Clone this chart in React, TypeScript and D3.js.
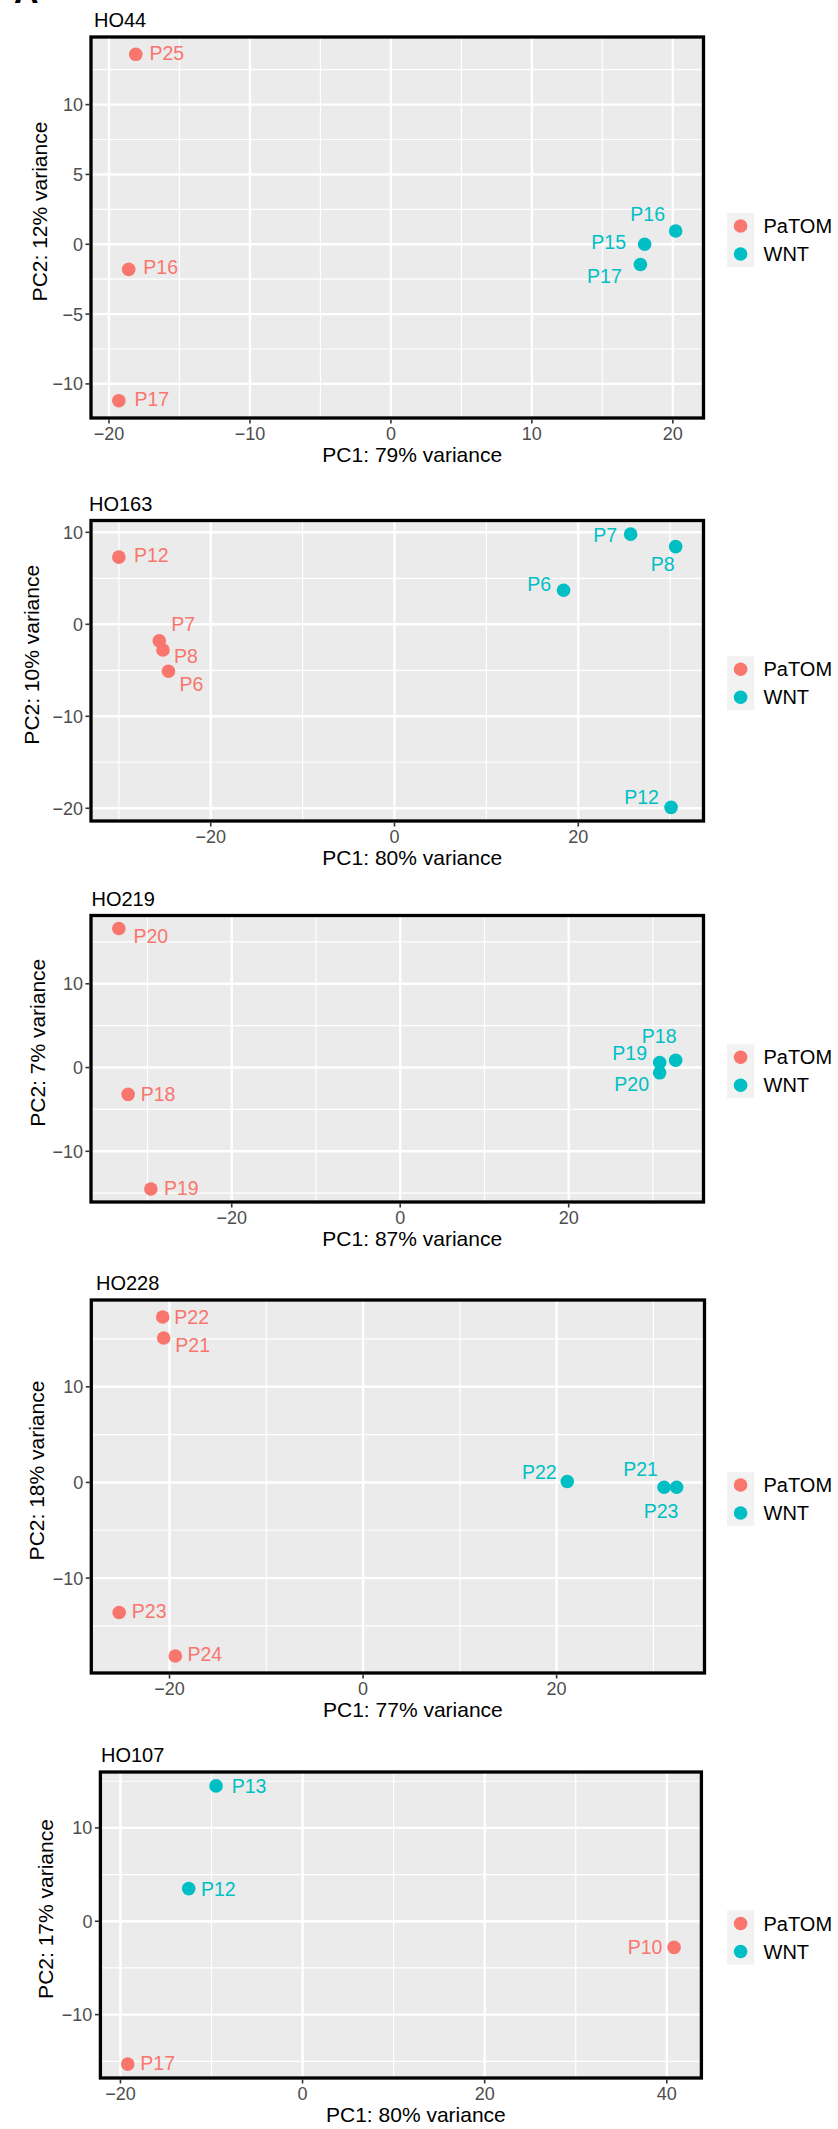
import React from "react";
import * as d3 from "d3";

// groups
const groupNames = ["PaTOM", "WNT"];
const groupColors = ["#F8766D", "#00BFC4"];

// HO44
const ho44Samples = ["P25", "P16", "P17", "P16", "P15", "P17"];
const ho44Groups = ["PaTOM", "PaTOM", "PaTOM", "WNT", "WNT", "WNT"];
const ho44PC1 = [-18.1, -18.6, -19.3, 20.2, 18.0, 17.7];
const ho44PC2 = [13.6, -1.8, -11.2, 0.95, 0.0, -1.45];
const ho44XTicks = [-20, -10, 0, 10, 20];
const ho44YTicks = [-10, -5, 0, 5, 10];

// HO163
const ho163Samples = ["P12", "P7", "P8", "P6", "P7", "P8", "P6", "P12"];
const ho163Groups = ["PaTOM", "PaTOM", "PaTOM", "PaTOM", "WNT", "WNT", "WNT", "WNT"];
const ho163PC1 = [-30.0, -25.6, -25.2, -24.6, 25.7, 30.6, 18.4, 30.1];
const ho163PC2 = [7.3, -1.8, -2.8, -5.1, 9.8, 8.45, 3.7, -19.9];
const ho163XTicks = [-20, 0, 20];
const ho163YTicks = [-20, -10, 0, 10];

// HO219
const ho219Samples = ["P20", "P18", "P19", "P18", "P19", "P20"];
const ho219Groups = ["PaTOM", "PaTOM", "PaTOM", "WNT", "WNT", "WNT"];
const ho219PC1 = [-33.4, -32.3, -29.6, 32.7, 30.8, 30.8];
const ho219PC2 = [16.6, -3.2, -14.5, 0.87, 0.6, -0.63];
const ho219XTicks = [-20, 0, 20];
const ho219YTicks = [-10, 0, 10];

// HO228
const ho228Samples = ["P22", "P21", "P23", "P24", "P22", "P21", "P23"];
const ho228Groups = ["PaTOM", "PaTOM", "PaTOM", "PaTOM", "WNT", "WNT", "WNT"];
const ho228PC1 = [-20.7, -20.6, -25.2, -19.4, 21.1, 31.1, 32.4];
const ho228PC2 = [17.3, 15.1, -13.6, -18.15, 0.1, -0.5, -0.5];
const ho228XTicks = [-20, 0, 20];
const ho228YTicks = [-10, 0, 10];

// HO107
const ho107Samples = ["P13", "P12", "P10", "P17"];
const ho107Groups = ["WNT", "WNT", "PaTOM", "PaTOM"];
const ho107PC1 = [-9.5, -12.5, 40.8, -19.2];
const ho107PC2 = [14.5, 3.5, -2.8, -15.3];
const ho107XTicks = [-20, 0, 20, 40];
const ho107YTicks = [-10, 0, 10];

const panelTitles = ["HO44", "HO163", "HO219", "HO228", "HO107"];
const pc1Variance = [79, 80, 87, 77, 80];
const pc2Variance = [12, 10, 7, 18, 17];

// label placement (like ggrepel output), px offsets of the label centre
const ho44Nudge = [[31, -1], [32, -2], [33, -2], [-28, -17], [-36, -2], [-36, 11]];
const ho163Nudge = [[32.5, -2], [24, -17], [23, 6], [23, 13], [-25.5, 1], [-13, 17], [-24.5, -6], [-29.5, -10]];
const ho219Nudge = [[32, 7], [30, 0], [30.5, -1], [-16.5, -24], [-30, -9.5], [-28, 11]];
const ho228Nudge = [[29, 0], [29, 7], [30, -2], [29.5, -2], [-28, -9], [-23.5, -18], [-15.5, 24]];
const ho107Nudge = [[33, 0], [29.5, 0], [-29, 0], [30, -1]];

// panel boxes on the page
const layout = [
  { top: 37, bottom: 418, x0: 91, x1: 703.5, yTitleX: 39, titleX: 94 },
  { top: 520.5, bottom: 821, x0: 91, x1: 703.5, yTitleX: 31, titleX: 89 },
  { top: 915.5, bottom: 1202, x0: 91, x1: 703.5, yTitleX: 37, titleX: 91.5 },
  { top: 1300, bottom: 1673, x0: 91.3, x1: 704.5, yTitleX: 36, titleX: 96 },
  { top: 1772, bottom: 2078, x0: 100.4, x1: 701.4, yTitleX: 45, titleX: 101 },
];

const panelData = [
  { samples: ho44Samples, groups: ho44Groups, pc1: ho44PC1, pc2: ho44PC2, xTicks: ho44XTicks, yTicks: ho44YTicks, nudge: ho44Nudge },
  { samples: ho163Samples, groups: ho163Groups, pc1: ho163PC1, pc2: ho163PC2, xTicks: ho163XTicks, yTicks: ho163YTicks, nudge: ho163Nudge },
  { samples: ho219Samples, groups: ho219Groups, pc1: ho219PC1, pc2: ho219PC2, xTicks: ho219XTicks, yTicks: ho219YTicks, nudge: ho219Nudge },
  { samples: ho228Samples, groups: ho228Groups, pc1: ho228PC1, pc2: ho228PC2, xTicks: ho228XTicks, yTicks: ho228YTicks, nudge: ho228Nudge },
  { samples: ho107Samples, groups: ho107Groups, pc1: ho107PC1, pc2: ho107PC2, xTicks: ho107XTicks, yTicks: ho107YTicks, nudge: ho107Nudge },
];

const FONT = "'Liberation Sans', Arial, Helvetica, sans-serif";
const color = d3.scaleOrdinal<string, string>().domain(groupNames).range(groupColors);
const fmt = (v: number) => (v < 0 ? "\u2212" + Math.abs(v) : String(v));

// ggplot style 5% expansion
function expand(vals: number[]): [number, number] {
  const [lo, hi] = d3.extent(vals) as [number, number];
  const pad = (hi - lo) * 0.05;
  return [lo - pad, hi + pad];
}

function minorBreaks(ticks: number[], domain: [number, number]) {
  const step = ticks[1] - ticks[0];
  const out: number[] = [];
  for (let v = ticks[0] - step / 2; v <= domain[1]; v += step) {
    if (v >= domain[0]) out.push(v);
  }
  return out;
}

function Panel({ i }: { i: number }) {
  const d = panelData[i];
  const L = layout[i];
  const xDomain = expand(d.pc1);
  const yDomain = expand(d.pc2);
  const x = d3.scaleLinear().domain(xDomain).range([L.x0, L.x1]);
  const y = d3.scaleLinear().domain(yDomain).range([L.bottom, L.top]);
  const xMinor = minorBreaks(d.xTicks, xDomain);
  const yMinor = minorBreaks(d.yTicks, yDomain);
  const midX = (L.x0 + L.x1) / 2;
  const midY = (L.top + L.bottom) / 2;
  const legendY = midY + 12.5;

  return (
    <g>
      <text x={L.titleX} y={L.top - 10} fontSize={20} fontFamily={FONT} fill="#000">
        {panelTitles[i]}
      </text>
      <rect x={L.x0} y={L.top} width={L.x1 - L.x0} height={L.bottom - L.top} fill="#EBEBEB" />
      {xMinor.map((v) => (
        <line key={"xm" + v} x1={x(v)} x2={x(v)} y1={L.top} y2={L.bottom} stroke="#fff" strokeWidth={1.2} />
      ))}
      {yMinor.map((v) => (
        <line key={"ym" + v} x1={L.x0} x2={L.x1} y1={y(v)} y2={y(v)} stroke="#fff" strokeWidth={1.2} />
      ))}
      {d.xTicks.map((v) => (
        <line key={"xg" + v} x1={x(v)} x2={x(v)} y1={L.top} y2={L.bottom} stroke="#fff" strokeWidth={2.4} />
      ))}
      {d.yTicks.map((v) => (
        <line key={"yg" + v} x1={L.x0} x2={L.x1} y1={y(v)} y2={y(v)} stroke="#fff" strokeWidth={2.4} />
      ))}
      {d.pc1.map((v, k) => (
        <circle key={"p" + k} cx={x(v)} cy={y(d.pc2[k])} r={6.8} fill={color(d.groups[k])} />
      ))}
      {d.pc1.map((v, k) => (
        <text
          key={"l" + k}
          x={x(v) + d.nudge[k][0]}
          y={y(d.pc2[k]) + d.nudge[k][1]}
          dy="0.36em"
          textAnchor="middle"
          fontSize={19.5}
          fontFamily={FONT}
          fill={color(d.groups[k])}
        >
          {d.samples[k]}
        </text>
      ))}
      <rect x={L.x0} y={L.top} width={L.x1 - L.x0} height={L.bottom - L.top} fill="none" stroke="#000" strokeWidth={3.3} />
      {d.xTicks.map((v) => (
        <g key={"xt" + v}>
          <line x1={x(v)} x2={x(v)} y1={L.bottom + 1.5} y2={L.bottom + 5.5} stroke="#333" strokeWidth={1.6} />
          <text x={x(v)} y={L.bottom + 22} textAnchor="middle" fontSize={18} fontFamily={FONT} fill="#4D4D4D">
            {fmt(v)}
          </text>
        </g>
      ))}
      {d.yTicks.map((v) => (
        <g key={"yt" + v}>
          <line x1={L.x0 - 5.5} x2={L.x0 - 1.5} y1={y(v)} y2={y(v)} stroke="#333" strokeWidth={1.6} />
          <text x={L.x0 - 8} y={y(v)} dy="0.36em" textAnchor="end" fontSize={18} fontFamily={FONT} fill="#4D4D4D">
            {fmt(v)}
          </text>
        </g>
      ))}
      <text x={midX + 15} y={L.bottom + 44} textAnchor="middle" fontSize={21} fontFamily={FONT} fill="#000">
        {`PC1: ${pc1Variance[i]}% variance`}
      </text>
      <text
        transform={`translate(${L.yTitleX},${midY - 16}) rotate(-90)`}
        dy="0.36em"
        textAnchor="middle"
        fontSize={21}
        fontFamily={FONT}
        fill="#000"
      >
        {`PC2: ${pc2Variance[i]}% variance`}
      </text>
      <g>
        <rect x={727} y={legendY - 27} width={27.3} height={54} fill="#F2F2F2" />
        {groupNames.map((g, k) => (
          <g key={g}>
            <circle cx={740.6} cy={legendY - 14 + k * 28} r={6.8} fill={color(g)} />
            <text x={763.5} y={legendY - 14 + k * 28} dy="0.36em" fontSize={20} fontFamily={FONT} fill="#000">
              {g}
            </text>
          </g>
        ))}
      </g>
    </g>
  );
}

export default function App() {
  return (
    <div style={{ position: "absolute", left: 0, top: 0 }}>
      <svg width={838} height={2129} style={{ display: "block", background: "#fff" }}>
        <text x={14} y={3} fontSize={34} fontWeight="bold" fontFamily={FONT} fill="#000">
          A
        </text>
        {panelData.map((_, i) => (
          <Panel key={i} i={i} />
        ))}
      </svg>
    </div>
  );
}
